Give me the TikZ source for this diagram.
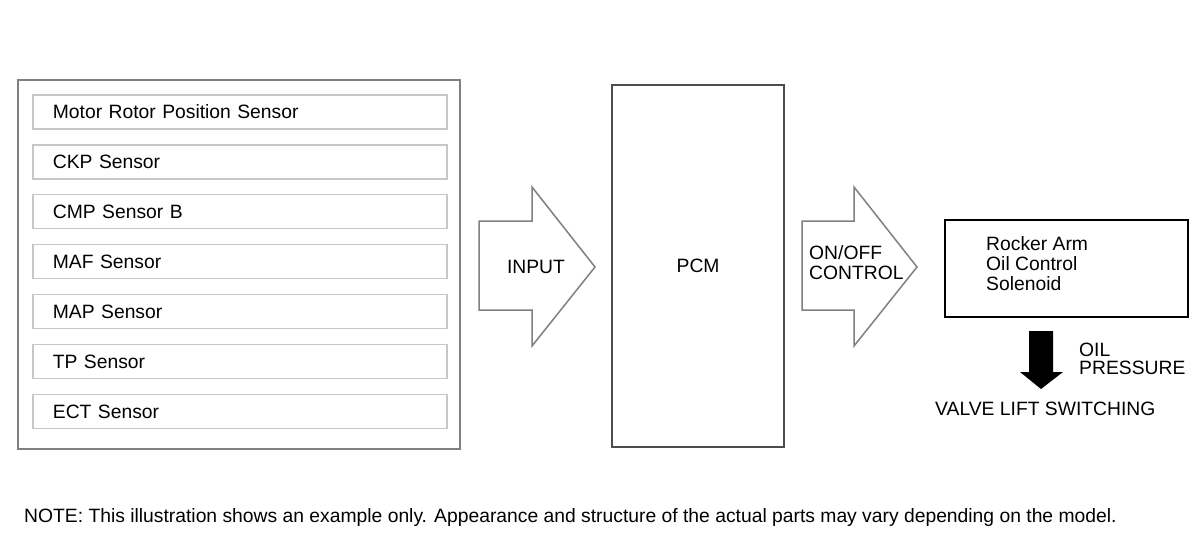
\documentclass[tikz,border=0pt]{standalone}
\usepackage{fontspec}
\setmainfont{Liberation Sans}
\begin{document}
\begin{tikzpicture}[x=1pt,y=-1pt,
  txt/.style={font=\fontsize{19.3}{20}\selectfont, inner sep=0pt},
  sensorbox/.style={draw=black!22, line width=1.8pt, rectangle, minimum height=34pt,
    text width=374pt, inner xsep=20pt, inner ysep=0pt, align=left,
    font=\fontsize{19.3}{20}\selectfont, anchor=north west},
  blockarrow/.style={draw=black!50, line width=1.5pt, fill=white, line join=miter},
]
\useasboundingbox (0,0) rectangle (1200,552);
\fill[white] (0,0) rectangle (1200,552);
% outer sensor frame
\node[draw=black!50, line width=2pt, rectangle, minimum width=442pt, minimum height=369pt, anchor=north west, inner sep=0pt] (sensors) at (17,79) {};
\node[sensorbox] (s1) at (32,94) {Motor Rotor Position Sensor};
\node[sensorbox] (s2) at (32,144) {CKP Sensor};
\node[sensorbox] (s3) at (32,193.5) {CMP Sensor B};
\node[sensorbox] (s4) at (32,243.5) {MAF Sensor};
\node[sensorbox] (s5) at (32,293.5) {MAP Sensor};
\node[sensorbox] (s6) at (32,343.5) {TP Sensor};
\node[sensorbox] (s7) at (32,393.5) {ECT Sensor};
% input arrow
\draw[blockarrow] (479,221) -- (532,221) -- (532,187) -- (595,267) -- (532,346) -- (532,310) -- (479,310) -- cycle;
\node[txt] (input) at (536,267) {INPUT};
% PCM
\node[draw=black!70, line width=2.2pt, rectangle, minimum width=172pt, minimum height=362pt, anchor=north west, inner sep=0pt] (pcm) at (611,84) {};
\node[txt] (pcmtext) at (pcm.center) {PCM};
% on/off arrow
\draw[blockarrow] (802,221) -- (854,221) -- (854,187) -- (917,267) -- (854,346) -- (854,310) -- (802,310) -- cycle;
\node[txt, align=left, anchor=west] (onoff) at (809,263) {ON/OFF\\CONTROL};
% rocker arm
\node[draw=black, line width=1.8pt, rectangle, minimum width=243pt, minimum height=97pt, anchor=north west, inner sep=0pt] (rocker) at (944,219) {};
\node[txt, align=left, anchor=west] (rockertext) at (986,263.5) {Rocker Arm\\Oil Control\\Solenoid};
% oil pressure arrow
\fill[black] (1029,331) -- (1053,331) -- (1053,372) -- (1063,372) -- (1041,389) -- (1020,372) -- (1029,372) -- cycle;
\node[txt, align=left, anchor=west, font=\fontsize{19.3}{18}\selectfont] (oil) at (1079,358.5) {OIL\\PRESSURE};
\node[txt, anchor=west] (valve) at (935,409) {VALVE LIFT SWITCHING};
% note
\node[txt, anchor=west] (note) at (24,517.5) {NOTE: This illustration shows an example only. Appearance and structure of the actual parts may vary depending on the model.};
\end{tikzpicture}
\end{document}
